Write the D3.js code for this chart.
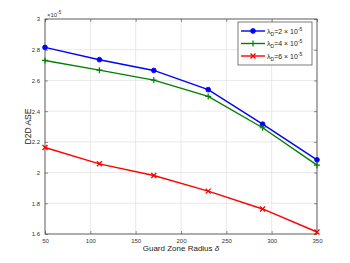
<!DOCTYPE html>
<html>
<head>
<meta charset="utf-8">
<script src="https://cdn.jsdelivr.net/npm/d3@7"></script>
<style>
body { margin: 0; background: #fff; }
text { font-family: "Liberation Sans", Arial, sans-serif; }
</style>
</head>
<body>
<script>
// data (values in units of 1e-5)
var radius = [50, 110, 170, 230, 290, 350];
var ase2 = [2.815, 2.735, 2.665, 2.54, 2.315, 2.083];
var ase4 = [2.73, 2.667, 2.602, 2.496, 2.292, 2.048];
var ase6 = [2.163, 2.057, 1.981, 1.879, 1.763, 1.613];
var seriesNames = ["2", "4", "6"];
var xTicks = [50, 100, 150, 200, 250, 300, 350];
var yTicks = [1.6, 1.8, 2, 2.2, 2.4, 2.6, 2.8, 3];

var margin = {top: 19, right: 33, bottom: 29, left: 45},
  width = 350 - margin.left - margin.right,
  height = 263 - margin.top - margin.bottom;

var x = d3.scaleLinear().domain([50, 350]).range([0, width]),
  y = d3.scaleLinear().domain([1.6, 3]).range([height, 0]);

var svg = d3.select("body").append("svg")
  .attr("width", 350)
  .attr("height", 263)
.append("g")
  .attr("transform", "translate(" + margin.left + "," + margin.top + ")");

// grid
svg.selectAll(".gx").data(xTicks).enter().append("line")
  .attr("x1", x).attr("x2", x).attr("y1", 0).attr("y2", height)
  .style("stroke", "#e3e3e3").style("stroke-width", 0.8);
svg.selectAll(".gy").data(yTicks).enter().append("line")
  .attr("y1", y).attr("y2", y).attr("x1", 0).attr("x2", width)
  .style("stroke", "#e3e3e3").style("stroke-width", 0.8);

// axes (ticks inside, mirrored on top and right)
function styleAxis(g) {
  g.select(".domain").remove();
  g.selectAll("line").style("stroke", "#444").style("stroke-width", 0.6);
  g.selectAll("text").style("font-size", "6px").style("fill", "#333")
    .style("font-family", "Liberation Sans, Arial, sans-serif");
}
svg.append("g").attr("transform", "translate(0," + height + ")")
  .call(d3.axisBottom(x).tickValues(xTicks).tickSize(-3).tickPadding(5))
  .call(styleAxis);
svg.append("g")
  .call(d3.axisTop(x).tickValues(xTicks).tickSize(-3).tickFormat(""))
  .call(styleAxis);
svg.append("g")
  .call(d3.axisLeft(y).tickValues(yTicks).tickSize(-3).tickPadding(5).tickFormat(d3.format("~g")))
  .call(styleAxis);
svg.append("g").attr("transform", "translate(" + width + ",0)")
  .call(d3.axisRight(y).tickValues(yTicks).tickSize(-3).tickFormat(""))
  .call(styleAxis);

svg.append("rect")
  .attr("width", width).attr("height", height)
  .style("fill", "none").style("stroke", "#444").style("stroke-width", 0.8);

// exponent label
var ex = svg.append("text").attr("x", 2).attr("y", -2)
  .style("font-size", "6px").style("fill", "#333");
ex.append("tspan").text("\u00d710");
ex.append("tspan").attr("dy", -3).style("font-size", "4.5px").text("-5");

// lines
var series = [
  {name: seriesNames[0], values: ase2, color: "#0000ff", marker: "dot"},
  {name: seriesNames[1], values: ase4, color: "#008000", marker: "plus"},
  {name: seriesNames[2], values: ase6, color: "#ff0000", marker: "cross"}
];

var line = d3.line()
  .x(function(d) { return x(d.r); })
  .y(function(d) { return y(d.v); });

function drawMarker(g, kind, cx, cy, color) {
  if (kind === "dot") {
    g.append("circle").attr("cx", cx).attr("cy", cy).attr("r", 2.4)
      .style("fill", color).style("stroke", color).style("stroke-width", 0.8);
  } else if (kind === "plus") {
    g.append("path").attr("d", "M" + (cx - 3) + "," + cy + "h6M" + cx + "," + (cy - 3) + "v6")
      .style("stroke", color).style("stroke-width", 1.2).style("fill", "none");
  } else {
    g.append("path").attr("d", "M" + (cx - 2.5) + "," + (cy - 2.5) + "l5,5M" + (cx - 2.5) + "," + (cy + 2.5) + "l5,-5")
      .style("stroke", color).style("stroke-width", 1.3).style("fill", "none");
  }
}

series.forEach(function(s) {
  var pts = radius.map(function(r, i) { return {r: r, v: s.values[i]}; });
  svg.append("path").datum(pts)
    .attr("d", line)
    .style("fill", "none").style("stroke", s.color).style("stroke-width", 1.4);
  var mg = svg.append("g");
  pts.forEach(function(p) { drawMarker(mg, s.marker, x(p.r), y(p.v), s.color); });
});

// legend
var lg = svg.append("g").attr("transform", "translate(" + (238 - margin.left) + "," + (22 - margin.top) + ")");
lg.append("rect").attr("width", 74).attr("height", 43)
  .style("fill", "#fff").style("stroke", "#444").style("stroke-width", 0.7);
series.forEach(function(s, i) {
  var ly = 9 + i * 12.5;
  lg.append("line").attr("x1", 3).attr("x2", 27).attr("y1", ly).attr("y2", ly)
    .style("stroke", s.color).style("stroke-width", 1.4);
  drawMarker(lg, s.marker, 15, ly, s.color);
  var t = lg.append("text").attr("x", 29).attr("y", ly + 2.5)
    .style("font-size", "7px").style("fill", "#222");
  t.append("tspan").text("\u03bb");
  t.append("tspan").attr("dy", 2).style("font-size", "5px").text("D");
  t.append("tspan").attr("dy", -2).text("=" + s.name + " \u00d7 10");
  t.append("tspan").attr("dy", -3).style("font-size", "5px").text("-5");
});

// axis labels
svg.append("text")
  .attr("x", width / 2).attr("y", height + 17)
  .style("text-anchor", "middle").style("font-size", "8px").style("fill", "#222")
  .text("Guard Zone Radius ")
  .append("tspan").style("font-style", "italic").text("\u03b4");

svg.append("text")
  .attr("transform", "translate(-14," + (height / 2) + ") rotate(-90)")
  .style("text-anchor", "middle").style("font-size", "8.5px").style("fill", "#222")
  .text("D2D ASE");
</script>
</body>
</html>
